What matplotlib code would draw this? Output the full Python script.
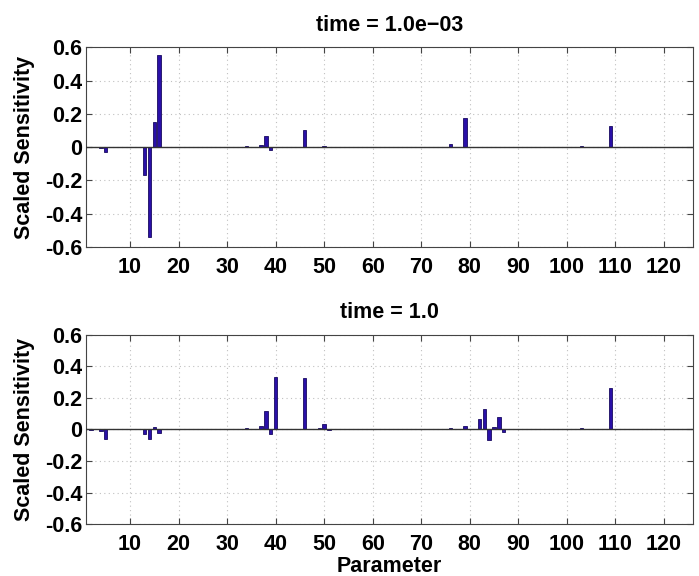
import numpy as np
import matplotlib
matplotlib.use("Agg")
from matplotlib import pyplot as plt

plt.rcParams['font.family'] = ['Liberation Sans', 'DejaVu Sans']
plt.rcParams['font.weight'] = 'bold'

# parameter index -> scaled sensitivity (only the visible bars)
params_early = [4, 5, 13, 14, 15, 16, 20, 34, 37, 38, 39, 46, 50, 59, 61,
                76, 79, 82, 84, 100, 103, 109, 123, 125]
sens_early = [-0.004, -0.028, -0.168, -0.537, 0.152, 0.552, 0.003, 0.005,
              0.014, 0.065, -0.016, 0.105, 0.005, 0.003, 0.002,
              0.018, 0.174, 0.003, 0.003, 0.002, 0.006, 0.127, 0.002, 0.002]

params_late = [2, 4, 5, 6, 13, 14, 15, 16, 34, 37, 38, 39, 40, 46, 49, 50, 51,
               59, 61, 67, 76, 79, 82, 83, 84, 85, 86, 87, 95, 100, 103, 106,
               109, 112, 116, 121, 124]
sens_late = [-0.005, -0.01, -0.06, 0.005, -0.028, -0.06, 0.015, -0.025,
             0.006, 0.021, 0.119, -0.026, 0.33, 0.326, 0.011, 0.034, -0.003,
             0.005, 0.003, 0.002, 0.009, 0.023, 0.064, 0.13, -0.068, 0.015,
             0.079, -0.017, 0.002, 0.005, 0.008, 0.005, 0.26, 0.003, 0.002,
             0.002, 0.004]

titles = ['time = 1.0e\u221203', 'time = 1.0']
xticks = np.arange(10, 130, 10)
yticks = np.arange(-0.6, 0.61, 0.2)

fig = plt.figure(figsize=(6.99, 5.76), dpi=100)
ax_top = fig.add_axes([0.1235, 0.571, 0.868, 0.347])
ax_bot = fig.add_axes([0.1235, 0.090, 0.868, 0.329])

panels = [(ax_top, params_early, sens_early),
          (ax_bot, params_late, sens_late)]

fs = 15.5
for i, (ax, p, s) in enumerate(panels):
    ax.bar(p, s, width=0.7, color='#2a10a8', edgecolor='#180a60', linewidth=0.6, zorder=3)
    ax.axhline(0, color='#333333', linewidth=1.0, zorder=4)
    ax.set_xlim(1, 126)
    ax.set_ylim(-0.6, 0.6)
    ax.set_xticks(xticks)
    ax.set_yticks(yticks)
    ax.set_yticklabels(['%g' % round(v, 1) for v in yticks])
    ax.tick_params(direction='in', length=4, top=True, right=True,
                   labelsize=fs, color='#444444')
    ax.tick_params(axis='x', pad=7)
    ax.tick_params(axis='y', pad=3)
    ax.grid(True, linestyle=(0, (1, 3)), color='#c0c0c0', linewidth=0.8, zorder=0)
    for sp in ax.spines.values():
        sp.set_color('#444444')
    ax.set_title(titles[i], fontsize=fs, fontweight='bold', pad=12)
    ax.set_ylabel('Scaled Sensitivity', fontsize=fs, fontweight='bold', labelpad=7)

ax_bot.set_xlabel('Parameter', fontsize=fs, fontweight='bold', labelpad=1)

fig.savefig('out.png', dpi=100)
